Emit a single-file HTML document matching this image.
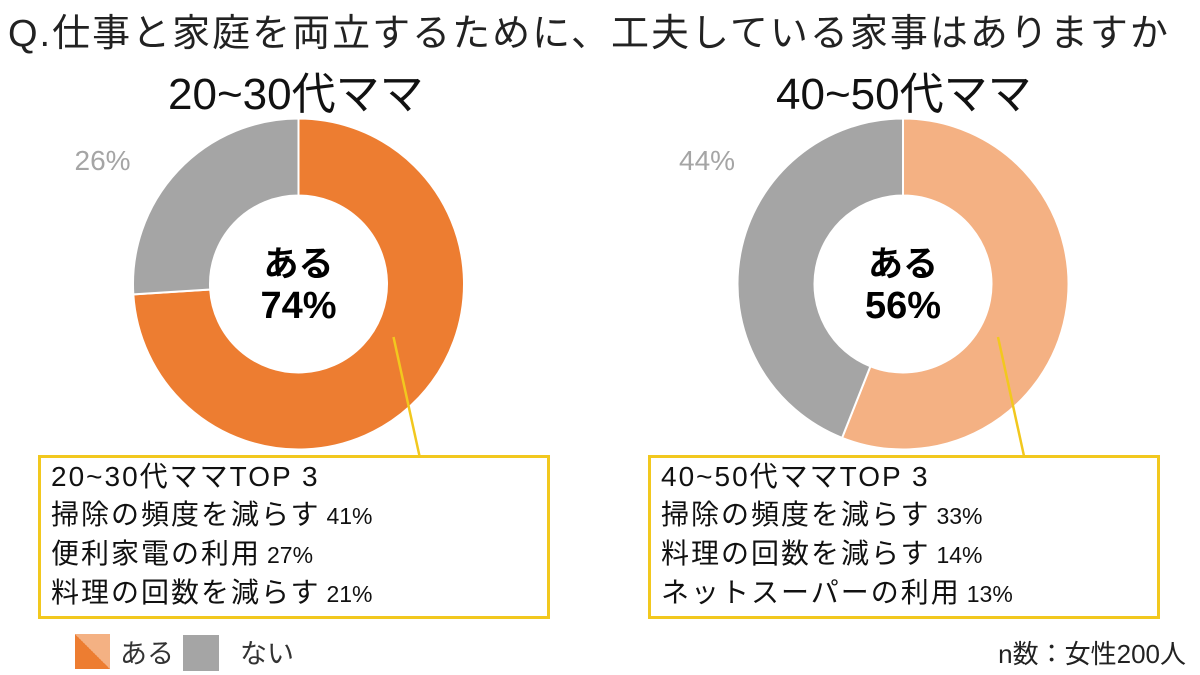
<!DOCTYPE html>
<html><head><meta charset="utf-8"><style>
body{margin:0;background:#fff;font-family:"Liberation Sans","Noto Sans CJK JP",sans-serif;}
#wrap{position:relative;width:1200px;height:675px;overflow:hidden;background:#fff}
.t{position:absolute;white-space:nowrap;color:#000}
.box{position:absolute;border:3px solid #f2c81e;background:#fff;box-sizing:border-box;padding:0 10px;font-size:28px;line-height:38px;color:#111;letter-spacing:2px}
.box span{font-size:23px;letter-spacing:0;margin-left:6px}
</style></head><body>
<div id="wrap">
<div class="t" style="left:8px;top:2px;font-size:38px;letter-spacing:2px;color:#222">Q.仕事と家庭を両立するために、工夫している家事はありますか</div>
<div class="t" style="left:168px;top:58px;font-size:44px;color:#111">20~30代ママ</div>
<div class="t" style="left:776px;top:58px;font-size:44px;color:#111">40~50代ママ</div>
<svg id="svg" width="1200" height="675" style="position:absolute;left:0;top:0"></svg>
<div class="box" style="left:38px;top:455px;width:512px;height:164px">20~30代ママTOP 3<br>掃除の頻度を減らす<span>41%</span><br>便利家電の利用<span>27%</span><br>料理の回数を減らす<span>21%</span></div>
<div class="box" style="left:648px;top:455px;width:512px;height:164px">40~50代ママTOP 3<br>掃除の頻度を減らす<span>33%</span><br>料理の回数を減らす<span>14%</span><br>ネットスーパーの利用<span>13%</span></div>
<div style="position:absolute;left:75px;top:634px;width:35px;height:35px;background:linear-gradient(45deg,#ed7d31 50%,#f4b183 50%)"></div>
<div class="t" style="left:120px;top:632px;font-size:27px;color:#333">ある</div>
<div style="position:absolute;left:183px;top:635px;width:36px;height:36px;background:#a5a5a5"></div>
<div class="t" style="left:240px;top:632px;font-size:27px;color:#333">ない</div>
<div class="t" style="right:14px;top:634px;font-size:26px;color:#222">n数：女性200人</div>
</div>
<script>
const charts=["20~30代ママ","40~50代ママ"];
const aruValues=[74,56];
const naiValues=[26,44];
const aruColors=["#ed7d31","#f4b183"];
const centers=[[298.5,284],[903,284]];
const R=165.5,r=88.5;
const svg=document.getElementById('svg');
const NS="http://www.w3.org/2000/svg";
function pt(cx,cy,rad,f){const a=f*2*Math.PI-Math.PI/2;return [cx+rad*Math.cos(a),cy+rad*Math.sin(a)];}
function arc(cx,cy,f0,f1){const l=(f1-f0)>0.5?1:0;const a=pt(cx,cy,R,f0),b=pt(cx,cy,R,f1),c=pt(cx,cy,r,f1),d=pt(cx,cy,r,f0);
return `M${a}A${R},${R} 0 ${l} 1 ${b}L${c}A${r},${r} 0 ${l} 0 ${d}Z`;}
charts.forEach((c,i)=>{
 const [cx,cy]=centers[i];const fa=aruValues[i]/100,fn=naiValues[i]/100;
 let p=document.createElementNS(NS,'path');p.setAttribute('d',arc(cx,cy,0,fa));p.setAttribute('fill',aruColors[i]);p.setAttribute('stroke','#fff');p.setAttribute('stroke-width','2');
 
 svg.appendChild(p);
 p=document.createElementNS(NS,'path');p.setAttribute('d',arc(cx,cy,fa,fa+fn));p.setAttribute('fill','#a5a5a5');p.setAttribute('stroke','#fff');p.setAttribute('stroke-width','2');
 
 svg.appendChild(p);
 let t=document.createElementNS(NS,'text');t.setAttribute('x',cx);t.setAttribute('y',cy-8);t.setAttribute('text-anchor','middle');t.setAttribute('font-size','35');t.setAttribute('font-weight','bold');t.textContent='ある';
 
 svg.appendChild(t);
 t=document.createElementNS(NS,'text');t.setAttribute('x',cx);t.setAttribute('y',cy+34);t.setAttribute('text-anchor','middle');t.setAttribute('font-size','38');t.setAttribute('font-weight','bold');t.textContent=aruValues[i]+'%';
 
 svg.appendChild(t);
 t=document.createElementNS(NS,'text');t.setAttribute('x',cx-224);t.setAttribute('y',170);t.setAttribute('font-size','28');t.setAttribute('fill','#a5a5a5');t.textContent=naiValues[i]+'%';
 
 svg.appendChild(t);
 const l=document.createElementNS(NS,'line');l.setAttribute('x1',cx+95);l.setAttribute('y1',337);l.setAttribute('x2',cx+121);l.setAttribute('y2',456);l.setAttribute('stroke','#f2c81e');l.setAttribute('stroke-width','2.5');
 
 svg.appendChild(l);
});
</script>
</body></html>
